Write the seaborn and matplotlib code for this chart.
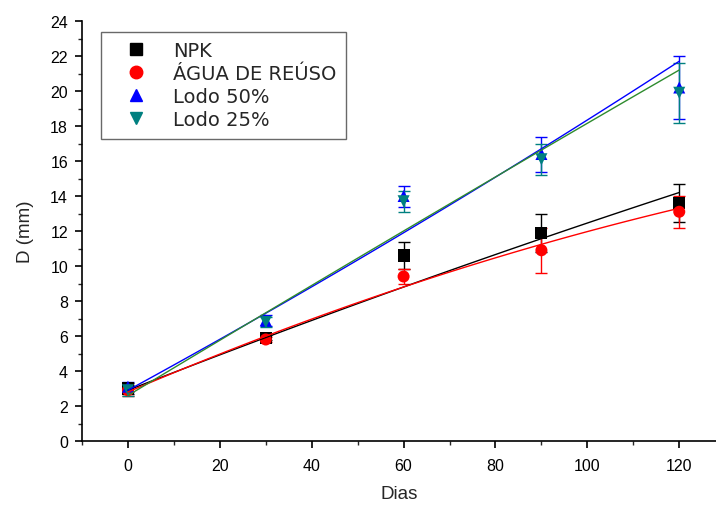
import numpy as np
import pandas as pd
import matplotlib
matplotlib.use("Agg")
import matplotlib.pyplot as plt
import seaborn as sns
from matplotlib.ticker import MultipleLocator
from matplotlib.lines import Line2D

sns.set_style("ticks")
plt.rcParams['font.family'] = ['Liberation Sans', 'DejaVu Sans']

# ---- data ----
dias = [0, 30, 60, 90, 120]
series = ["NPK", "ÁGUA DE REÚSO", "Lodo 50%", "Lodo 25%"]
npk = [3.0, 5.9, 10.6, 11.9, 13.6]
npk_err = [0.3, 0.15, 0.75, 1.1, 1.1]
agua = [2.9, 5.8, 9.4, 10.9, 13.1]
agua_err = [0.3, 0.15, 0.45, 1.3, 0.9]
lodo50 = [3.1, 6.9, 14.0, 16.4, 20.2]
lodo50_err = [0.3, 0.3, 0.6, 1.0, 1.8]
lodo25 = [2.9, 6.8, 13.7, 16.1, 19.9]
lodo25_err = [0.3, 0.3, 0.6, 0.9, 1.7]
# fitted curve values at x = 0, 60, 120
fit_x = [0, 60, 120]
npk_fit = [2.9, 8.8, 14.2]
agua_fit = [2.8, 8.8, 13.3]
lodo50_fit = [2.9, 11.9, 21.7]
lodo25_fit = [2.6, 12.0, 21.2]

values = [npk, agua, lodo50, lodo25]
errors = [npk_err, agua_err, lodo50_err, lodo25_err]
fits = [npk_fit, agua_fit, lodo50_fit, lodo25_fit]

marker_colors = ["#000000", "#FF0000", "#0000FF", "#008080"]
err_colors = ["#000000", "#FF0000", "#0000FF", "#008080"]
line_colors = ["#000000", "#FF0000", "#0000FF", "#2E8B2E"]
markers = ["s", "o", "^", "v"]

df = pd.DataFrame({
    "Dias": dias * 4,
    "D": sum(values, []),
    "err": sum(errors, []),
    "serie": sum([[s] * len(dias) for s in series], []),
})

fig = plt.figure(figsize=(7.16, 5.06), dpi=100)
ax = fig.add_axes([82 / 716, 1 - 442 / 506, (716 - 82) / 716, (442 - 22) / 506])

# error bars
for s, c in zip(series, err_colors):
    d = df[df.serie == s]
    ax.errorbar(d["Dias"], d["D"], yerr=d["err"], fmt="none", ecolor=c,
                elinewidth=1.0, capsize=4, capthick=1.0, zorder=2)

# markers
sns.scatterplot(data=df, x="Dias", y="D", hue="serie", style="serie",
                hue_order=series, style_order=series,
                palette=dict(zip(series, marker_colors)),
                markers=dict(zip(series, markers)),
                s=75, edgecolor="none", linewidth=0, ax=ax, legend=False, zorder=3)

# fit curves (quadratic through read fit values)
xs = np.linspace(0, 120, 121)
fit_rows = []
for s, f in zip(series, fits):
    coef = np.polyfit(fit_x, f, 2)
    for xv in xs:
        fit_rows.append({"Dias": xv, "D": np.polyval(coef, xv), "serie": s})
fdf = pd.DataFrame(fit_rows)
sns.lineplot(data=fdf, x="Dias", y="D", hue="serie", hue_order=series,
             palette=dict(zip(series, line_colors)), linewidth=1.0,
             ax=ax, legend=False, zorder=4)

ax.set_xlim(-10, 128)
ax.set_ylim(0, 24)
ax.xaxis.set_major_locator(MultipleLocator(20))
ax.xaxis.set_minor_locator(MultipleLocator(10))
ax.yaxis.set_major_locator(MultipleLocator(2))
ax.yaxis.set_minor_locator(MultipleLocator(1))
ax.tick_params(which="major", direction="out", length=5, width=1.2,
               labelsize=11.5, colors="black")
ax.tick_params(which="minor", direction="out", length=3, width=1.0)
ax.tick_params(axis="x", which="major", pad=7)
ax.tick_params(axis="y", which="major", pad=5)
for sp in ["top", "right"]:
    ax.spines[sp].set_visible(False)
for sp in ["left", "bottom"]:
    ax.spines[sp].set_linewidth(1.2)
    ax.spines[sp].set_color("black")

ax.set_xlabel("Dias", fontsize=13.5, labelpad=9)
ax.set_ylabel("D (mm)", fontsize=13.5, labelpad=12)

handles = [Line2D([], [], linestyle="none", marker=m, color=c, markersize=9)
           for m, c in zip(markers, marker_colors)]
leg = ax.legend(handles, series, loc="upper left", bbox_to_anchor=(0.030, 0.975),
                frameon=True, fancybox=False, edgecolor="#444444",
                prop={"family": "DejaVu Sans", "size": 14},
                handletextpad=0.6, labelspacing=0.2, borderpad=0.5,
                handlelength=2.6, borderaxespad=0)
leg.get_frame().set_linewidth(1.0)

fig.savefig("out.png", dpi=100)
